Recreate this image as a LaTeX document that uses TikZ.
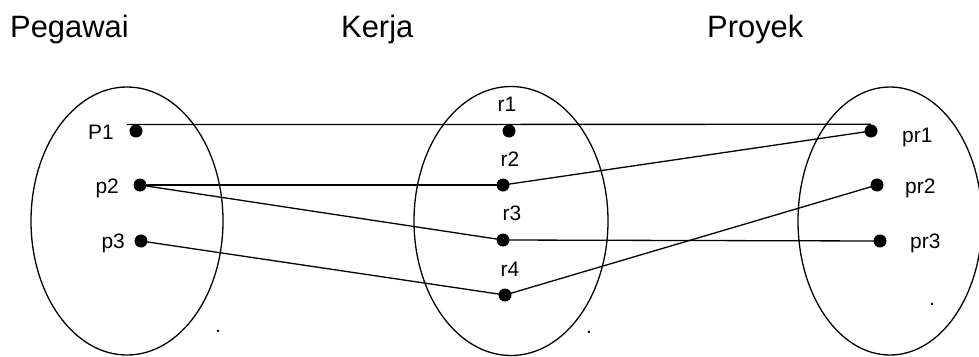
\documentclass[tikz,border=0pt]{standalone}
\usepackage{fontspec}
\setmainfont{Liberation Sans}
\usetikzlibrary{shapes.geometric}
\begin{document}
\begin{tikzpicture}[x=1bp,y=-1bp,
  setshape/.style={draw,ellipse,line width=1.3bp,inner sep=0pt,minimum width=#1},
  dotpt/.style={circle,fill=black,inner sep=0pt,minimum size=13bp},
  title/.style={inner sep=0pt,anchor=base west,font=\fontsize{31}{36}\selectfont},
  lbl/.style={inner sep=0pt,font=\fontsize{21}{25}\selectfont},
  link/.style={line width=1.3bp}]
\useasboundingbox (0,0) rectangle (979,356);
% titles
\node[title] (tPeg) at (10,37) {Pegawai};
\node[title] (tKer) at (341,37) {Kerja};
\node[title] (tPro) at (707,37) {Proyek};
% sets
\node[setshape=192bp,minimum height=268bp] (setP) at (127,221) {};
\node[setshape=194bp,minimum height=269bp] (setK) at (511,221) {};
\node[setshape=184bp,minimum height=268bp] (setR) at (890,221) {};
% dots
\node[dotpt] (P1) at (136,131) {};
\node[dotpt] (p2) at (140,185) {};
\node[dotpt] (p3) at (141,241) {};
\node[dotpt] (r1) at (509,131) {};
\node[dotpt] (r2) at (503,185) {};
\node[dotpt] (r3) at (503,240) {};
\node[dotpt] (r4) at (505,295) {};
\node[dotpt] (pr1) at (871,131) {};
\node[dotpt] (pr2) at (877,185) {};
\node[dotpt] (pr3) at (880,241) {};
% labels
\node[lbl,anchor=base east] (lP1) at (114,139) {P1};
\node[lbl,anchor=base east] (lp2) at (119,193) {p2};
\node[lbl,anchor=base east] (lp3) at (125,248) {p3};
\node[lbl,anchor=base] (lr1) at (507,111) {r1};
\node[lbl,anchor=base] (lr2) at (510,166) {r2};
\node[lbl,anchor=base] (lr3) at (512,220) {r3};
\node[lbl,anchor=base] (lr4) at (510,276) {r4};
\node[lbl,anchor=base west] (lpr1) at (902,142) {pr1};
\node[lbl,anchor=base west] (lpr2) at (905,193) {pr2};
\node[lbl,anchor=base west] (lpr3) at (910,248) {pr3};
% stray periods
\node[lbl,anchor=base] (d1) at (218,332) {.};
\node[lbl,anchor=base] (d2) at (589,333) {.};
\node[lbl,anchor=base] (d3) at (932,305) {.};
% connectors
\coordinate (P1start) at (127,124.5);
\draw[link] (P1start) -- (pr1.north);
\draw[link] (p2.center) -- (r2.center);
\draw[link] (p2.center) -- (r3.center);
\draw[link] (p3.center) -- (r4.center);
\draw[link] (r2.center) -- (pr1.center);
\draw[link] (r3.center) -- (pr3.center);
\draw[link] (r4.center) -- (pr2.center);
\end{tikzpicture}
\end{document}
